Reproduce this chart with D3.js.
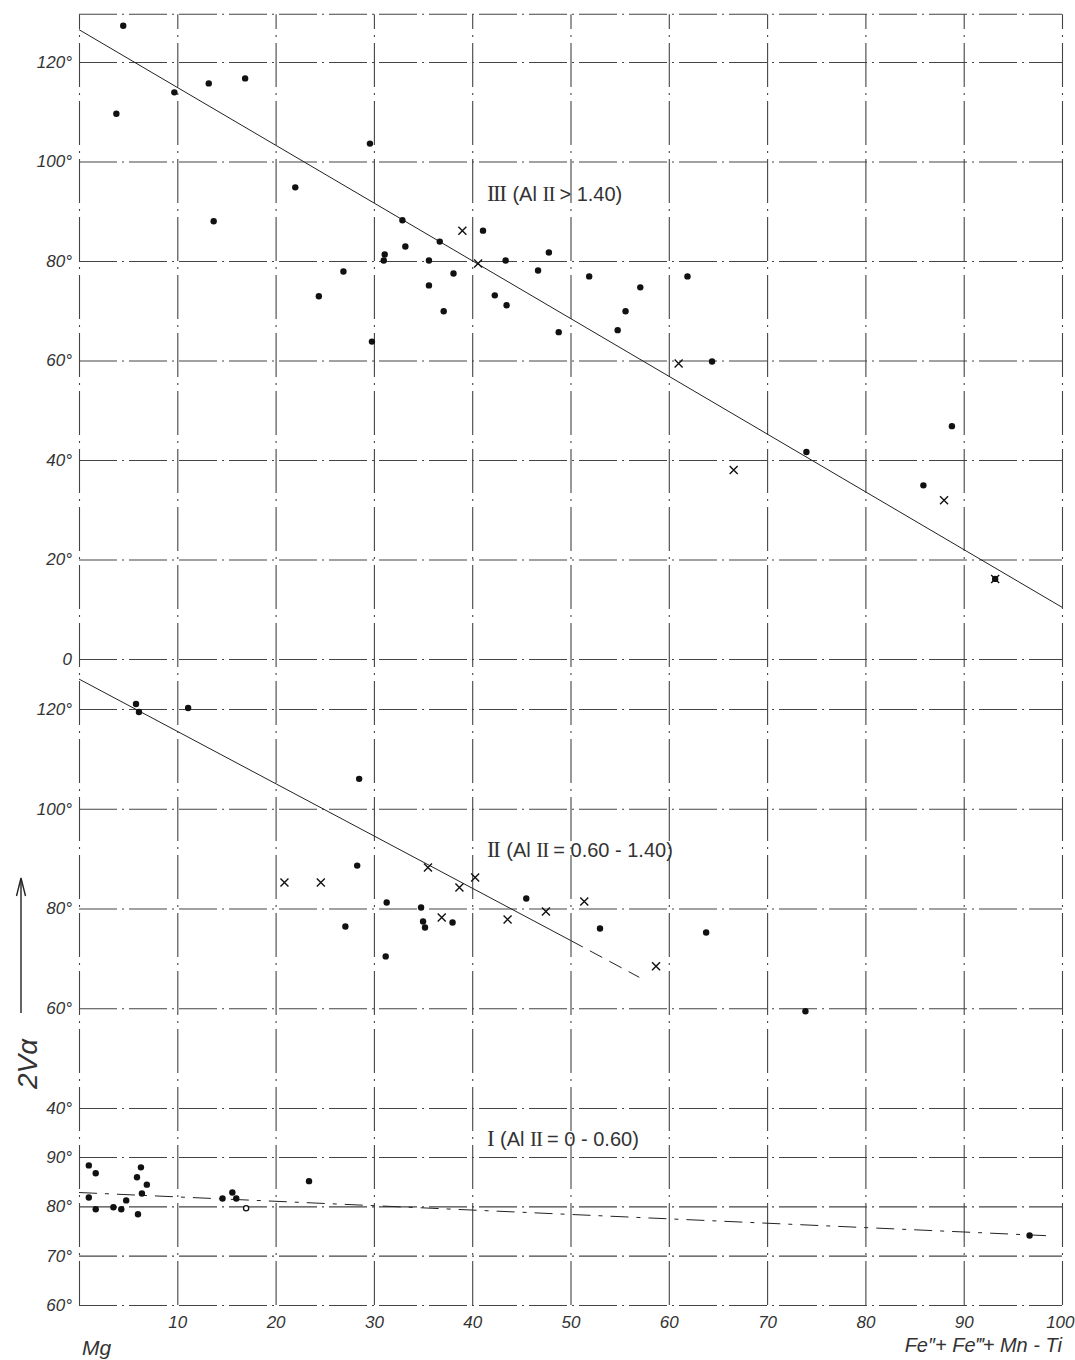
<!DOCTYPE html>
<html>
<head>
<meta charset="utf-8">
<script src="https://cdn.jsdelivr.net/npm/d3@7"></script>
<style>
  body { margin: 0; background: #fff; }
  svg text { font-family: "Liberation Sans", "DejaVu Sans", sans-serif; fill: #333; }
  .grid line { stroke: #444; stroke-width: 1.1; }
  .tick text { font-style: italic; font-size: 17px; }
</style>
</head>
<body>
<svg id="chart" width="1075" height="1360"></svg>
<script>
// x: Fe''+Fe'''+Mn-Ti (Mg = 0 .. 100)
var xTicks = [0, 10, 20, 30, 40, 50, 60, 70, 80, 90, 100];

// y ticks of the three stacked panels (2V alpha, degrees)
var ticksIII = [0, 20, 40, 60, 80, 100, 120];
var ticksII = [40, 60, 80, 100, 120];
var ticksI = [60, 70, 80, 90];

// panel III (Al II > 1.40)
var dotsIII = [[4.5,127.3],[3.8,109.6],[9.7,113.9],[13.2,115.7],[16.9,116.7],[22.0,94.8],[13.7,88.0],
  [26.9,77.9],[24.4,72.9],[29.6,103.6],[29.8,63.8],[32.9,88.2],[33.2,82.9],[31.1,81.3],[31.0,80.1],
  [35.6,80.1],[36.7,83.9],[41.1,86.1],[43.4,80.1],[38.1,77.5],[35.6,75.1],[37.1,69.9],[42.3,73.1],
  [43.5,71.1],[46.7,78.1],[47.8,81.7],[48.8,65.7],[51.9,76.9],[57.1,74.7],[55.6,69.9],[54.8,66.1],
  [61.9,76.9],[64.4,59.8],[74.0,41.6],[88.8,46.8],[85.9,34.9],[93.2,16.1]];
var crossesIII = [[39.0,86.1],[40.6,79.5],[61.0,59.4],[66.6,38.0],[88.0,31.9],[93.2,16.1]];
var fitIII = [[0,126.5],[100,10.4]];

// panel II (Al II = 0.60 - 1.40)
var dotsII = [[5.8,121.0],[6.1,119.4],[11.1,120.2],[28.5,106.0],[28.3,88.6],[27.1,76.4],[31.3,81.2],
  [31.2,70.4],[34.8,80.2],[35.0,77.4],[35.2,76.2],[38.0,77.2],[45.5,82.0],[53.0,76.0],[63.8,75.2],[73.9,59.4]];
var crossesII = [[20.9,85.2],[24.6,85.2],[35.5,88.2],[36.9,78.2],[38.7,84.2],[40.3,86.2],[43.6,77.8],
  [47.5,79.4],[51.4,81.4],[58.7,68.4]];
var fitII = [[0,126.0],[50,73.6]];
var fitIIEnd = [[50,73.6],[57,66.2]];

// panel I (Al II = 0 - 0.60)
var dotsI = [[1.0,88.3],[1.7,86.7],[1.0,81.8],[1.7,79.4],[3.5,79.8],[4.3,79.4],[4.8,81.2],[5.9,85.9],
  [6.3,87.9],[6.9,84.4],[6.4,82.6],[6.0,78.4],[14.6,81.6],[15.6,82.8],[16.0,81.6],[23.4,85.1],[96.7,74.1]];
var openI = [[17.0,79.6]];
var fitI = [[0,82.8],[99,74.0]];

var svg = d3.select('#chart');

var x = d3.scaleLinear().domain([0, 100]).range([79, 1062]);
var yIII = d3.scaleLinear().domain([0, 120]).range([659, 62]);
var yII = d3.scaleLinear().domain([40, 120]).range([1108, 709]);
var yI = d3.scaleLinear().domain([60, 90]).range([1305, 1157]);

var frameTop = yIII(129.6), frameBottom = yI(60);
var W = x(100) - x(0);

var deg = function (d) { return d === 0 ? '0' : d + '°'; };

// vertical grid + x labels
var gx = svg.append('g').attr('class', 'grid')
  .attr('transform', 'translate(0,' + frameBottom + ')')
  .call(d3.axisBottom(x).tickValues(xTicks).tickSize(-(frameBottom - frameTop)).tickPadding(11)
    .tickFormat(function (d) { return d === 0 ? '' : d; }));
gx.select('.domain').remove();
gx.selectAll('line').attr('stroke-dasharray', '44,6,2,6');
gx.selectAll('text').filter(function (d) { return d === 100; })
  .attr('text-anchor', 'end').attr('dx', 12);

// horizontal grid + y labels for each panel
[[yIII, ticksIII], [yII, ticksII], [yI, ticksI]].forEach(function (p) {
  var g = svg.append('g').attr('class', 'grid')
    .attr('transform', 'translate(' + x(0) + ',0)')
    .call(d3.axisLeft(p[0]).tickValues(p[1]).tickSize(-W).tickPadding(7).tickFormat(deg));
  g.select('.domain').remove();
  g.selectAll('line').attr('stroke-dasharray', '38,5,2,5');
});

// top border
svg.append('line')
  .attr('x1', x(0)).attr('x2', x(100)).attr('y1', frameTop).attr('y2', frameTop)
  .attr('stroke', '#444').attr('stroke-width', 1.1).attr('stroke-dasharray', '38,5,2,5');

// fitted lines
var lineIII = d3.line().x(function (d) { return x(d[0]); }).y(function (d) { return yIII(d[1]); });
var lineII = d3.line().x(function (d) { return x(d[0]); }).y(function (d) { return yII(d[1]); });
var lineI = d3.line().x(function (d) { return x(d[0]); }).y(function (d) { return yI(d[1]); });

svg.append('path').attr('d', lineIII(fitIII)).attr('fill', 'none').attr('stroke', '#222').attr('stroke-width', 1);
svg.append('path').attr('d', lineII(fitII)).attr('fill', 'none').attr('stroke', '#222').attr('stroke-width', 1);
svg.append('path').attr('d', lineII(fitIIEnd)).attr('fill', 'none').attr('stroke', '#222')
  .attr('stroke-width', 1).attr('stroke-dasharray', '14,8');
svg.append('path').attr('d', lineI(fitI)).attr('fill', 'none').attr('stroke', '#222')
  .attr('stroke-width', 1).attr('stroke-dasharray', '18,8,4,8');

// marks
var drawDots = function (data, y) {
  svg.append('g').selectAll('circle').data(data).join('circle')
    .attr('cx', function (d) { return x(d[0]); })
    .attr('cy', function (d) { return y(d[1]); })
    .attr('r', 3.2).attr('fill', '#111');
};
var drawCrosses = function (data, y) {
  svg.append('g').selectAll('path').data(data).join('path')
    .attr('transform', function (d) { return 'translate(' + x(d[0]) + ',' + y(d[1]) + ')'; })
    .attr('d', 'M-4,-4L4,4M-4,4L4,-4')
    .attr('stroke', '#111').attr('stroke-width', 1.4).attr('fill', 'none');
};

drawDots(dotsIII, yIII);
drawCrosses(crossesIII, yIII);
drawDots(dotsII, yII);
drawCrosses(crossesII, yII);
drawDots(dotsI, yI);
svg.append('g').selectAll('circle').data(openI).join('circle')
  .attr('cx', function (d) { return x(d[0]); })
  .attr('cy', function (d) { return yI(d[1]); })
  .attr('r', 2.6).attr('fill', '#fff').attr('stroke', '#111').attr('stroke-width', 1.3);

// panel labels
var panelLabel = function (num, rest, px, py) {
  var t = svg.append('text').attr('x', px).attr('y', py).attr('font-size', 20);
  t.append('tspan').attr('font-family', '"Liberation Serif", serif').attr('font-size', 23)
    .attr('letter-spacing', -1.5).text(num);
  t.append('tspan').attr('dx', 7).text('(Al ');
  t.append('tspan').attr('font-family', '"Liberation Serif", serif').attr('font-size', 21)
    .attr('letter-spacing', -1).text('II');
  t.append('tspan').attr('dx', 5).text(rest + ')');
};
panelLabel('III', '> 1.40', x(41.5), yIII(92));
panelLabel('II', '= 0.60 - 1.40', x(41.5), yII(90.4));
panelLabel('I', '= 0 - 0.60', x(41.5), yI(92.2));

// axis titles
svg.append('text').attr('x', 82).attr('y', 1355)
  .attr('font-size', 21).attr('font-style', 'italic').text('Mg');
svg.append('text').attr('x', x(100)).attr('y', 1352).attr('text-anchor', 'end')
  .attr('font-size', 20).attr('font-style', 'italic').text('Fe″+ Fe‴+ Mn - Ti');

svg.append('text').attr('transform', 'translate(37,1064) rotate(-90)')
  .attr('text-anchor', 'middle').attr('font-size', 28).attr('font-style', 'italic')
  .attr('font-family', '"DejaVu Serif", serif').text('2Vα');

svg.append('path').attr('d', 'M21,1013V880').attr('stroke', '#222').attr('stroke-width', 1.4);
svg.append('path').attr('d', 'M16.5,896L21,878L25.5,896').attr('fill', 'none')
  .attr('stroke', '#222').attr('stroke-width', 1.4);
</script>
</body>
</html>
